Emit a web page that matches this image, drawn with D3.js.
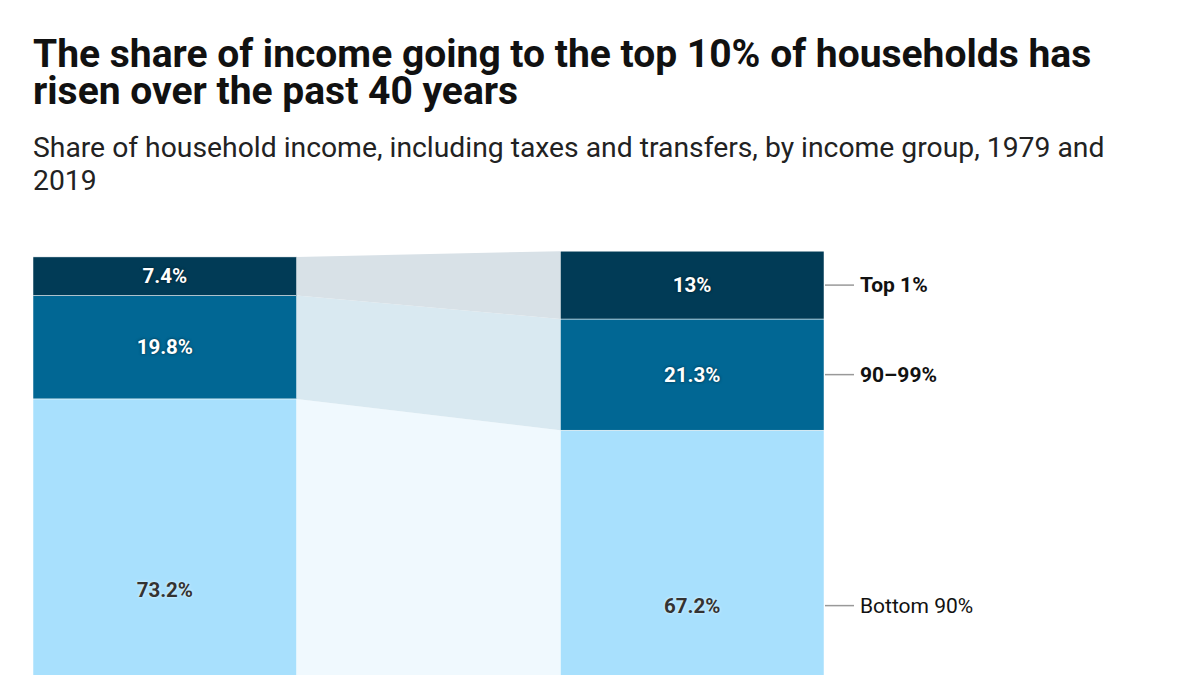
<!DOCTYPE html>
<html>
<head>
<meta charset="utf-8">
<script src="https://cdn.jsdelivr.net/npm/d3@7"></script>
<style>
  body { margin: 0; background: #fff; font-family: Roboto, "Noto Sans", sans-serif; }
  svg { display: block; }
</style>
</head>
<body>
<svg id="chart" width="1200" height="675"></svg>
<script>
// data
const years = ["1979", "2019"];
const groups = ["Bottom 90%", "90–99%", "Top 1%"];
const share1979 = [73.2, 19.8, 7.4];
const share2019 = [67.2, 21.3, 13];
const valueLabels1979 = ["73.2%", "19.8%", "7.4%"];
const valueLabels2019 = ["67.2%", "21.3%", "13%"];

const barColors = ["#a8e0fd", "#016794", "#013b56"];
const bandColors = ["#f0f9fe", "#d9e9f1", "#d8e1e7"];
const textColors = ["#333333", "#ffffff", "#ffffff"];
const haloColors = ["rgba(255,255,255,0.8)", "rgba(0,0,0,0.6)", "rgba(0,0,0,0.6)"];

const svg = d3.select("#chart");

// titles
svg.append("text")
  .attr("x", 33).attr("y", 67)
  .attr("font-size", 39).attr("font-weight", 700).attr("fill", "#111")
  .selectAll("tspan")
  .data(["The share of income going to the top 10% of households has", "risen over the past 40 years"])
  .join("tspan")
  .attr("x", 33).attr("dy", (d, i) => i ? 37 : 0)
  .text(d => d);

svg.append("text")
  .attr("x", 33).attr("y", 157)
  .attr("font-size", 28.3).attr("fill", "#222")
  .selectAll("tspan")
  .data(["Share of household income, including taxes and transfers, by income group, 1979 and", "2019"])
  .join("tspan")
  .attr("x", 33).attr("dy", (d, i) => i ? 33 : 0)
  .text(d => d);

// scales
const x = d3.scaleBand().domain(years).range([33, 824]).paddingInner(0.5).paddingOuter(0);
const y = d3.scaleLinear().domain([0, 100]).range([781, 259]);

function stackOf(vals) {
  let acc = 0;
  return vals.map(v => { const s = {y0: acc, y1: acc + v, v: v}; acc += v; return s; });
}
const s79 = stackOf(share1979);
const s19 = stackOf(share2019);

// connecting bands
const x0 = x("1979") + x.bandwidth();
const x1 = x("2019");
svg.append("g").selectAll("path")
  .data(groups.map((g, i) => ({a: s79[i], b: s19[i], i: i})))
  .join("path")
  .attr("d", d => `M${x0},${y(d.a.y1)}L${x1},${y(d.b.y1)}L${x1},${y(d.b.y0)}L${x0},${y(d.a.y0)}Z`)
  .attr("fill", d => bandColors[d.i]);

// bars
const bars = [
  {year: "1979", stack: s79, labels: valueLabels1979},
  {year: "2019", stack: s19, labels: valueLabels2019}
];
bars.forEach(b => {
  const g = svg.append("g");
  g.selectAll("rect")
    .data(b.stack)
    .join("rect")
    .attr("x", x(b.year))
    .attr("width", x.bandwidth())
    .attr("y", d => y(d.y1))
    .attr("height", d => y(d.y0) - y(d.y1))
    .attr("fill", (d, i) => barColors[i])
    .attr("stroke", "#fff").attr("stroke-width", 0.5);
  g.selectAll("text")
    .data(b.stack)
    .join("text")
    .attr("x", x(b.year) + x.bandwidth() / 2)
    .attr("y", d => (y(d.y0) + y(d.y1)) / 2)
    .attr("dy", "0.35em")
    .attr("text-anchor", "middle")
    .attr("font-size", 20.5).attr("font-weight", 700)
    .attr("fill", (d, i) => textColors[i])
    .style("text-shadow", (d, i) => `0 0 3px ${haloColors[i]}`)
    .text((d, i) => b.labels[i]);
});

// group labels at the right
const lx = x("2019") + x.bandwidth();
const lab = svg.append("g").selectAll("g")
  .data(s19)
  .join("g")
  .attr("transform", d => `translate(${lx},${(y(d.y0) + y(d.y1)) / 2})`);
lab.append("line").attr("x1", 1).attr("x2", 30).attr("stroke", "#999").attr("stroke-width", 1.5);
lab.append("text")
  .attr("x", 36).attr("dy", "0.35em")
  .attr("font-size", 21)
  .attr("font-weight", (d, i) => i ? 700 : 400)
  .attr("fill", "#111")
  .text((d, i) => groups[i]);
</script>
</body>
</html>
